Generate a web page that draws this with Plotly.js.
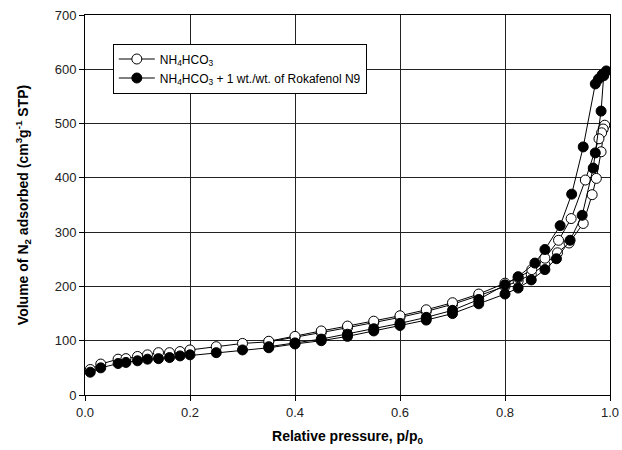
<!DOCTYPE html>
<html>
<head>
<meta charset="utf-8">
<script src="https://cdn.plot.ly/plotly-3.0.1.min.js"></script>
<style>html,body{margin:0;padding:0;background:#fff;}#chart{width:622px;height:450px;}</style>
</head>
<body>
<div id="chart"></div>
<script>
// NH4HCO3 (open circles)
const openAdsX = [0.01,0.03,0.063,0.078,0.10,0.119,0.14,0.161,0.181,0.20,0.25,0.30,0.35,0.40,0.45,0.50,0.55,0.60,0.65,0.70,0.75,0.80,0.825,0.85,0.876,0.90,0.922,0.949,0.966,0.974,0.983,0.99];
const openAdsY = [47,57,66,67,71,74,78,78,80,83,89,95,98,106,115,124,133,143,154,167,183,200,210,222,240,262,280,316,369,399,448,497];
const openDesX = [0.987,0.984,0.979,0.953,0.926,0.902,0.876,0.851,0.825,0.80,0.75,0.70,0.65,0.60,0.55,0.50,0.45,0.40,0.35];
const openDesY = [490,483,472,396,325,285,252,231,216,206,186,170,157,146,136,127,118,108,99];

// NH4HCO3 + 1 wt./wt. of Rokafenol N9 (filled circles)
const fillAdsX = [0.01,0.03,0.063,0.078,0.10,0.119,0.14,0.161,0.181,0.20,0.25,0.30,0.35,0.40,0.45,0.50,0.55,0.60,0.65,0.70,0.75,0.80,0.825,0.85,0.876,0.898,0.924,0.947,0.968,0.972,0.983,0.988,0.993];
const fillAdsY = [42,50,58,60,63,66,67,69,72,74,78,83,87,94,100,108,118,128,138,150,168,186,197,212,231,251,285,331,418,446,523,588,597];
const fillDesX = [0.985,0.978,0.972,0.949,0.927,0.905,0.876,0.857,0.825,0.80,0.75,0.70,0.65,0.60,0.55,0.50,0.45,0.40,0.35];
const fillDesY = [590,582,573,457,370,312,268,243,218,203,176,156,143,132,122,112,103,96,89];

const seriesNames = ['NH<sub>4</sub>HCO<sub>3</sub>', 'NH<sub>4</sub>HCO<sub>3</sub> + 1 wt./wt. of Rokafenol N9'];
const xTicks = [0,0.2,0.4,0.6,0.8,1.0];
const yTicks = [0,100,200,300,400,500,600,700];

const traces = [
  {
    x: openAdsX.concat(openDesX), y: openAdsY.concat(openDesY),
    name: seriesNames[0], mode: 'lines+markers', type: 'scatter',
    line: {color: '#000', width: 1},
    marker: {symbol: 'circle', size: 10, color: '#fff', line: {color: '#000', width: 1}}
  },
  {
    x: fillAdsX.concat(fillDesX), y: fillAdsY.concat(fillDesY),
    name: seriesNames[1], mode: 'lines+markers', type: 'scatter',
    line: {color: '#000', width: 1},
    marker: {symbol: 'circle', size: 10, color: '#000', line: {color: '#000', width: 1}}
  }
];

const layout = {
  width: 622, height: 450,
  margin: {l: 85, r: 12, t: 15, b: 55},
  paper_bgcolor: '#fff', plot_bgcolor: '#fff',
  font: {family: 'Liberation Sans, Arial, sans-serif', size: 13, color: '#000'},
  showlegend: true,
  legend: {
    x: 0.053, y: 0.925, xanchor: 'left', yanchor: 'top',
    bgcolor: '#fff', bordercolor: '#000', borderwidth: 1,
    font: {size: 12, color: '#000'}, itemwidth: 36
  },
  xaxis: {
    range: [0, 1], tickvals: xTicks, tickformat: '.1f',
    showgrid: true, gridcolor: '#222', gridwidth: 1,
    showline: true, linecolor: '#000', linewidth: 1, mirror: true,
    ticks: 'outside', ticklen: 5, tickcolor: '#000', zeroline: false,
    tickfont: {size: 13, color: '#222'},
    title: {text: '<b>Relative pressure, p/p<sub>0</sub></b>', font: {size: 14, color: '#000'}, standoff: 12}
  },
  yaxis: {
    range: [0, 700], tickvals: yTicks,
    showgrid: true, gridcolor: '#222', gridwidth: 1,
    showline: true, linecolor: '#000', linewidth: 1, mirror: true,
    ticks: 'outside', ticklen: 5, tickcolor: '#000', zeroline: false,
    tickfont: {size: 13, color: '#222'},
    title: {text: '<b>Volume of N<sub>2</sub> adsorbed (cm<sup>3</sup>g<sup>-1</sup> STP)</b>', font: {size: 14, color: '#000'}, standoff: 22}
  }
};

Plotly.newPlot('chart', traces, layout, {displayModeBar: false, staticPlot: true});
</script>
</body>
</html>
